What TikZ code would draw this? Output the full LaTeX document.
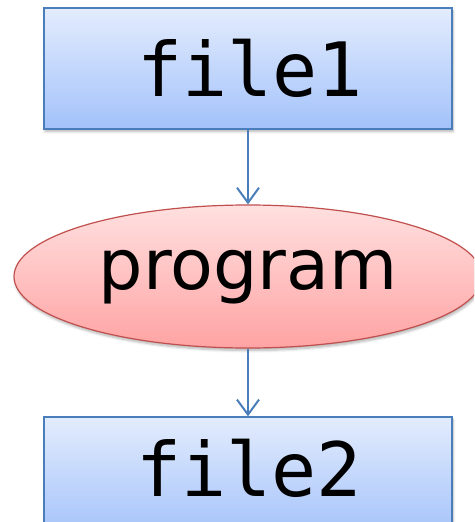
\documentclass[tikz,border=0pt]{standalone}
\usepackage{fontspec}
\usetikzlibrary{arrows.meta,shapes.geometric,shadows.blur}
\newfontfamily\codefont{DejaVu Sans Mono}
\newfontfamily\labelfont{DejaVu Sans}

\definecolor{boxtop}{HTML}{E3ECFD}
\definecolor{boxbottom}{HTML}{A3C2FA}
\definecolor{boxedge}{HTML}{4A7EBB}
\definecolor{elltop}{HTML}{FFE0E0}
\definecolor{ellbottom}{HTML}{FFA3A3}
\definecolor{elledge}{HTML}{C0504D}

\tikzset{
  softshadow/.style={blur shadow={shadow blur steps=6, shadow xshift=1pt,
      shadow yshift=-2.5pt, shadow opacity=30, shadow blur radius=2.5pt}},
  filebox/.style={rectangle, draw=boxedge, line width=1.4pt,
      top color=boxtop, bottom color=boxbottom,
      minimum width=408pt, inner sep=0pt, softshadow},
  progshape/.style={ellipse, draw=elledge, line width=1.2pt,
      top color=elltop, bottom color=ellbottom,
      minimum width=468pt, minimum height=143pt, inner sep=0pt, softshadow},
  codetext/.style={font=\codefont\fontsize{75}{77}\selectfont, inner sep=0pt},
  flow/.style={draw=boxedge, line width=2pt,
      -{Straight Barb[length=15pt,width=22pt,line width=2pt]}},
}

\begin{document}
\begin{tikzpicture}[x=1pt,y=-1pt]
  \useasboundingbox (0,0) rectangle (474,522);
  \clip (0,0) rectangle (474,522);

  % input file
  \node[filebox, minimum height=121pt] (f1) at (248,68.5) {};
  \node[codetext] (f1t) at (250,68) {file1};

  % the program
  \node[progshape, font=\labelfont\fontsize{70}{72}\selectfont,
        text height=40pt, text depth=15pt] (prog) at (248,276.5) {program};

  % output file (runs past the lower edge)
  \node[filebox, minimum height=120pt] (f2) at (248,477) {};
  \node[codetext] (f2t) at (249,468) {file2};

  \draw[flow] (f1) -- (prog);
  \draw[flow] (prog) -- (f2);
\end{tikzpicture}
\end{document}
